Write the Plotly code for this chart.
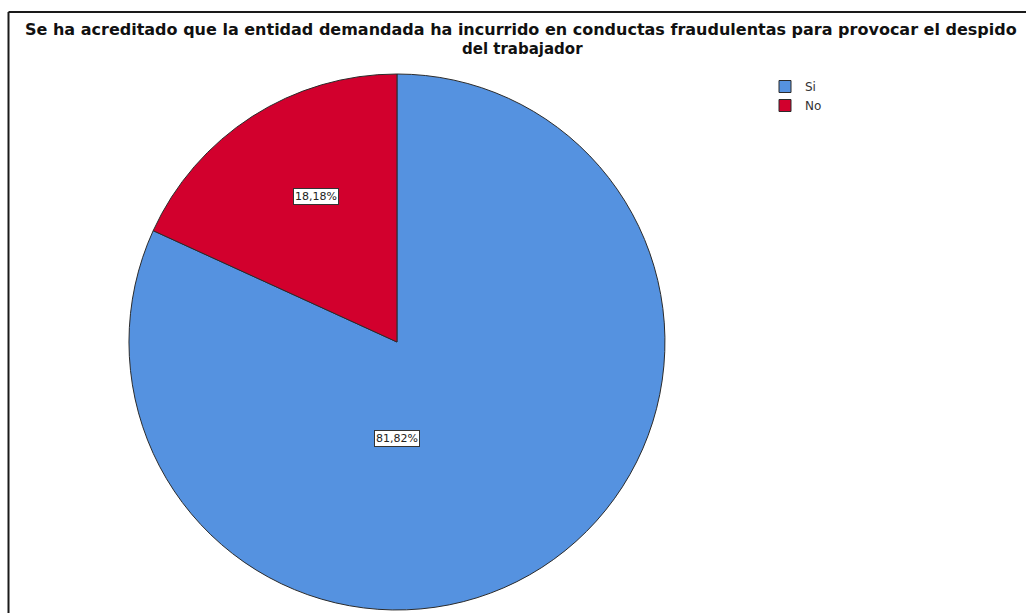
import math
import plotly.graph_objects as go

# Survey answers (counts of cases)
categories = ["Si", "No"]
counts = [9, 2]
colors = ["#5592E0", "#D2002D"]

title_line1 = "Se ha acreditado que la entidad demandada ha incurrido en conductas fraudulentas para provocar el despido"
title_line2 = "del trabajador"

W, H = 1026, 613

# pie placement (paper fractions)
dom_x = [0.1257, 0.6481]
dom_y = [0.0049, 0.8793]

# where each percentage label sits: (angle clockwise from 12 o'clock, fraction of radius)
label_anchor = {"Si": (180.0, 0.36), "No": (331.0, 0.62)}

total = sum(counts)
pct_text = [f"{c / total * 100:.2f}%".replace(".", ",") for c in counts]

fig = go.Figure(
    go.Pie(
        labels=categories,
        values=counts,
        sort=False,
        direction="clockwise",
        rotation=0,
        marker=dict(colors=colors, line=dict(color="#2b2b2b", width=1)),
        textinfo="none",
        hoverinfo="label+percent",
        domain=dict(x=dom_x, y=dom_y),
    )
)

# percentage labels in boxes, positioned from the pie geometry
cx = (dom_x[0] + dom_x[1]) / 2 * W
cy = (1 - (dom_y[0] + dom_y[1]) / 2) * H
r = min((dom_x[1] - dom_x[0]) * W, (dom_y[1] - dom_y[0]) * H) / 2
annotations = []
for cat, txt in zip(categories, pct_text):
    ang, frac = label_anchor[cat]
    px = cx + r * frac * math.sin(math.radians(ang))
    py = cy - r * frac * math.cos(math.radians(ang))
    annotations.append(
        dict(
            x=px / W, y=1 - py / H, xref="paper", yref="paper",
            text=txt, showarrow=False,
            font=dict(family="DejaVu Sans", size=11, color="#222222"),
            bgcolor="white", bordercolor="#333333", borderwidth=1, borderpad=1,
            xanchor="center", yanchor="middle",
        )
    )

# two-line title
annotations.append(dict(
    x=520.5 / W, y=1 - 30 / H, xref="paper", yref="paper", text=f"<b>{title_line1}</b>",
    showarrow=False, xanchor="center", yanchor="middle", borderpad=0,
    font=dict(family="DejaVu Sans", size=16, color="#111111"),
))
annotations.append(dict(
    x=522 / W, y=1 - 49 / H, xref="paper", yref="paper", text=f"<b>{title_line2}</b>",
    showarrow=False, xanchor="center", yanchor="middle", borderpad=0,
    font=dict(family="DejaVu Sans", size=15, color="#111111"),
))

# outer frame: top and left edges
shapes = [
    dict(type="line", xref="paper", yref="paper", x0=8.5 / W, x1=1.02, y0=1 - 12 / H, y1=1 - 12 / H,
         line=dict(color="#1a1a1a", width=2)),
    dict(type="line", xref="paper", yref="paper", x0=8.5 / W, x1=8.5 / W, y0=1 - 12 / H, y1=-0.02,
         line=dict(color="#1a1a1a", width=2)),
]

fig.update_layout(
    width=W, height=H,
    margin=dict(l=0, r=0, t=0, b=0),
    paper_bgcolor="white", plot_bgcolor="white",
    showlegend=True,
    legend=dict(
        x=765 / W, y=1 - 72 / H, xanchor="left", yanchor="top",
        font=dict(family="DejaVu Sans", size=12, color="#333333"),
        bgcolor="rgba(0,0,0,0)", tracegroupgap=0, itemwidth=30,
    ),
    annotations=annotations,
    shapes=shapes,
)

fig.write_html("out.html")
